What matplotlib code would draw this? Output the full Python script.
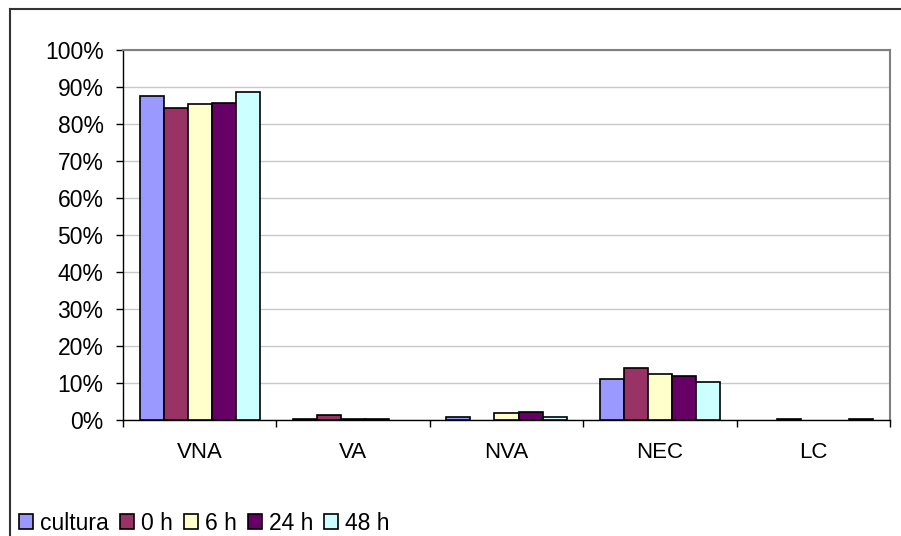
import numpy as np
import matplotlib.pyplot as plt
from matplotlib.lines import Line2D
from matplotlib.ticker import PercentFormatter

plt.rcParams['font.family'] = ['Liberation Sans', 'DejaVu Sans']

categories = ['VNA', 'VA', 'NVA', 'NEC', 'LC']
series = ['cultura', '0 h', '6 h', '24 h', '48 h']
cultura = [87.6, 0.3, 0.9, 11.0, 0.0]
h0 = [84.2, 1.4, 0.0, 14.0, 0.3]
h6 = [85.3, 0.3, 1.8, 12.4, 0.0]
h24 = [85.7, 0.3, 2.2, 11.8, 0.0]
h48 = [88.6, 0.0, 0.9, 10.2, 0.3]
values = [cultura, h0, h6, h24, h48]
colors = ['#9999FF', '#993366', '#FFFFCC', '#660066', '#CCFFFF']

fig = plt.figure(figsize=(9.01, 5.36), dpi=100)
ax = fig.add_axes([123 / 901, 1 - 420 / 536, (890 - 123) / 901, (420 - 50) / 536])

x = np.arange(len(categories)) + 0.5
w = 0.1565
for i, (name, vals) in enumerate(zip(series, values)):
    v = np.array(vals) / 100
    keep = v > 0
    ax.bar((x + (i - 2) * w)[keep], v[keep], width=w, color=colors[i],
           edgecolor='black', linewidth=1.2, label=name, zorder=3)

ax.set_xlim(0, 5)
ax.set_ylim(0, 1)
ax.set_yticks(np.arange(0, 1.01, 0.1))
ax.yaxis.set_major_formatter(PercentFormatter(1.0, decimals=0))
ax.set_xticks(x)
ax.set_xticklabels(categories)
ax.set_xticks(np.arange(0, 6), minor=True)
ax.tick_params(axis='x', which='major', length=0, pad=16, labelsize=16)
ax.tick_params(axis='x', which='minor', length=5, width=1, direction='out')
ax.tick_params(axis='y', length=5, width=1, pad=9, labelsize=16.5)
ax.grid(axis='y', color='#C8C8C8', linewidth=1, zorder=0)
ax.spines['top'].set_color('#808080')
ax.spines['right'].set_color('#808080')
ax.spines['top'].set_linewidth(1.5)
ax.spines['right'].set_linewidth(1.5)
ax.spines['left'].set_linewidth(1)
ax.spines['bottom'].set_linewidth(1)

# outer chart border (top and left visible)
fig.add_artist(Line2D([10 / 901, 1], [1 - 9 / 536, 1 - 9 / 536], color='#333333', linewidth=1.5))
fig.add_artist(Line2D([10 / 901, 10 / 901], [0, 1 - 9 / 536], color='#333333', linewidth=1.5))

fig.legend(loc='center left', bbox_to_anchor=(10 / 901, 1 - 523 / 536), ncol=5,
           frameon=False, fontsize=16.5, handlelength=0.6, handleheight=0.6,
           handletextpad=0.3, columnspacing=0.5, borderaxespad=0)

fig.savefig('out.png', dpi=100)
